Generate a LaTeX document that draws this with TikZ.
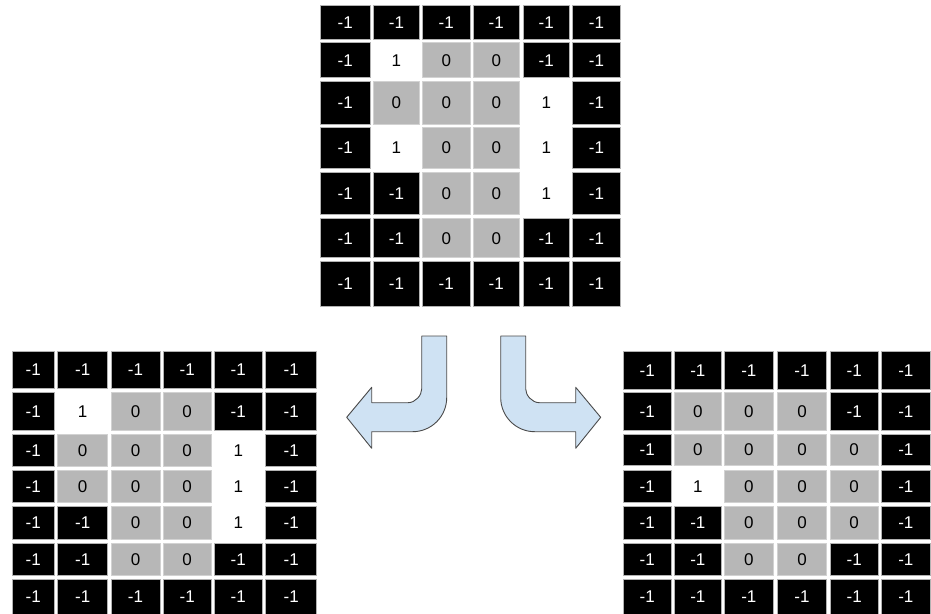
\documentclass[tikz,border=0pt]{standalone}
\usepackage{fontspec}
\setmainfont{Liberation Sans}
\definecolor{cellgrey}{HTML}{B7B7B7}
\definecolor{arrowfill}{HTML}{CFE2F3}
\definecolor{arrowline}{HTML}{4A4A4A}
\tikzset{
  cellbase/.style={rectangle, inner sep=0pt, outer sep=0pt, anchor=north west,
    font=\fontsize{17}{17}\selectfont},
  negcell/.style={cellbase, fill=black, draw=gray!60, line width=0.7pt, text=white},
  zerocell/.style={cellbase, fill=cellgrey, draw=gray!35, line width=0.7pt, text=black},
  onecell/.style={cellbase, fill=white, text=black},
  cellkind/.code={\ifnum#1<0 \pgfkeysalso{negcell}\else\ifnum#1=0 \pgfkeysalso{zerocell}\else\pgfkeysalso{onecell}\fi\fi},
  bentarrow/.style={fill=arrowfill, draw=arrowline, line width=0.9pt, line join=round},
}
% #1 name, #2 x edges, #3 y edges, #4 rows
\newcommand\gridcells[4]{%
  \foreach [count=\r] \rowdata in {#4} {
    \foreach [count=\c] \v in \rowdata {
      \pgfmathsetmacro\xa{{#2}[2*(\c-1)]}
      \pgfmathsetmacro\xb{{#2}[2*(\c-1)+1]}
      \pgfmathsetmacro\ya{{#3}[2*(\r-1)]}
      \pgfmathsetmacro\yb{{#3}[2*(\r-1)+1]}
      \pgfmathsetmacro\cw{\xb-\xa}
      \pgfmathsetmacro\ch{\yb-\ya}
      \node[cellkind=\v, minimum width=\cw pt, minimum height=\ch pt] (#1-\r-\c) at (\xa,\ya) {\v};
    }
  }%
}
\newcommand\bentpath[1]{%
  \coordinate (#1-top) at (446.7,336);
  \draw[bentarrow] (#1-top) -- (446.7,397.7)
    .. controls (446.7,416.4) and (431.4,431.7) .. (412.7,431.7)
    -- (371.7,431.7) -- (371.7,448.3) -- (346.7,417.3) coordinate (#1-tip)
    -- (371.7,387.3) -- (371.7,402.7) -- (408,402.7)
    .. controls (415.5,402.7) and (421.7,395.2) .. (421.7,389)
    -- (421.7,336) -- cycle;
}
\begin{document}
\begin{tikzpicture}[x=1pt, y=-1pt]
\useasboundingbox (0,0) rectangle (931,613);
% top grid
\gridcells{T}{320.3,370,373.3,419.5,422.5,470,473,519.5,523,569.5,572.7,620.3}
  {5.3,39.3,42.7,77.7,81,124,127.7,168.3,172.7,214.3,218.7,257.7,261,306.7}
  {{-1,-1,-1,-1,-1,-1},{-1,1,0,0,-1,-1},{-1,0,0,0,1,-1},{-1,1,0,0,1,-1},{-1,-1,0,0,1,-1},{-1,-1,0,0,-1,-1},{-1,-1,-1,-1,-1,-1}}
% left grid
\gridcells{L}{12.3,54.3,57.7,107.7,111,160,163.3,211,214.3,262.3,265.7,316.7}
  {351,388.3,392.3,430,434.3,466.7,470.7,502.3,506.7,539,543.3,575,579.3,614}
  {{-1,-1,-1,-1,-1,-1},{-1,1,0,0,-1,-1},{-1,0,0,0,1,-1},{-1,0,0,0,1,-1},{-1,-1,0,0,1,-1},{-1,-1,0,0,-1,-1},{-1,-1,-1,-1,-1,-1}}
% right grid
\gridcells{R}{623.3,671,674,721.7,724.3,773.3,777.3,826.7,830,878.3,881.7,930}
  {351.3,389,392.3,430.5,434.3,465.3,470,502.3,506.7,539,543.3,575,579.3,614}
  {{-1,-1,-1,-1,-1,-1},{-1,0,0,0,-1,-1},{-1,0,0,0,0,-1},{-1,1,0,0,0,-1},{-1,-1,0,0,0,-1},{-1,-1,0,0,-1,-1},{-1,-1,-1,-1,-1,-1}}
% arrows
\bentpath{AL}
\begin{scope}[xshift=947.4pt, xscale=-1]
  \bentpath{AR}
\end{scope}
\end{tikzpicture}
\end{document}
